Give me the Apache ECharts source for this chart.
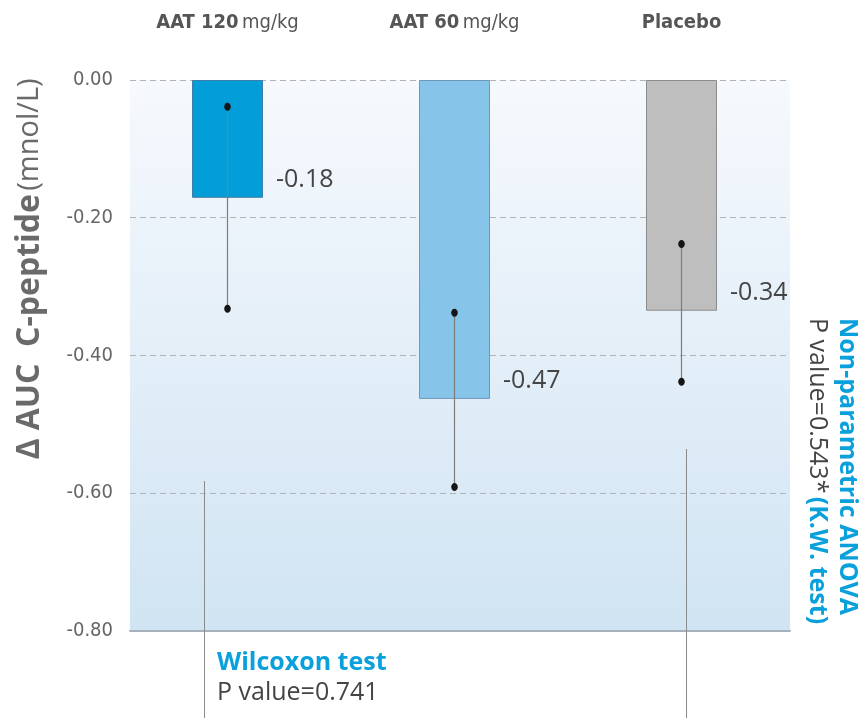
<!DOCTYPE html>
<html>
<head>
<meta charset="utf-8">
<script src="https://cdn.jsdelivr.net/npm/echarts@6/dist/echarts.min.js"></script>
<style>
html, body { margin: 0; padding: 0; background: #fff; }
#main { width: 866px; height: 718px; }
</style>
</head>
<body>
<div id="main"></div>
<script>
// groups and values
var groupNames = ['AAT 120', 'AAT 60', 'Placebo'];
var groupUnits = ['mg/kg', 'mg/kg', ''];
var barValues = [-0.171, -0.463, -0.335];
var meanLabels = ['-0.18', '-0.47', '-0.34'];
var errHigh = [-0.039, -0.338, -0.238];
var errLow = [-0.332, -0.591, -0.438];
var yMin = -0.8, yMax = 0, yStep = 0.2;

var barColors = ['#019ed9', '#87c4ea', '#bebebf'];
var barBorders = ['#3f7ea6', '#6f97b8', '#8c8c8c'];
var narrow = "'Liberation Sans Narrow', 'DejaVu Sans Condensed', 'Open Sans', sans-serif";
var mainFont = "'Open Sans', 'Noto Sans', sans-serif";
var blue = '#0aa0dc';

var chart = echarts.init(document.getElementById('main'));

var barData = barValues.map(function (v, i) {
    return {
        value: v,
        itemStyle: { color: barColors[i], borderColor: barBorders[i], borderWidth: 1 }
    };
});
var errData = errLow.map(function (lo, i) { return [i, lo, errHigh[i]]; });

var option = {
    animation: false,
    backgroundColor: '#fff',
    grid: [
        {   // panel with gridlines and y axis
            left: 130, right: 76, top: 80, bottom: 87,
            show: true, borderWidth: 0,
            backgroundColor: new echarts.graphic.LinearGradient(0, 0, 0, 1, [
                { offset: 0, color: '#f6f9fd' },
                { offset: 1, color: '#d0e4f3' }
            ])
        },
        {   // bars
            left: 114, right: 71, top: 80, bottom: 87
        }
    ],
    xAxis: [
        {
            gridIndex: 0, type: 'category', data: groupNames,
            axisLabel: { show: false }, axisTick: { show: false },
            axisLine: { show: true, onZero: false, lineStyle: { color: '#a7b1bb', width: 2 } },
            splitLine: { show: false }
        },
        {
            gridIndex: 1, type: 'category', data: groupNames, position: 'top',
            axisLine: { show: false }, axisTick: { show: false },
            axisLabel: {
                margin: 47,
                formatter: function (v, i) {
                    return groupUnits[i] ? '{b|' + v + '} {n|' + groupUnits[i] + '}' : '{b|' + v + '}';
                },
                rich: {
                    b: { fontFamily: narrow, fontWeight: 'bold', fontSize: 20, color: '#555' },
                    n: { fontFamily: narrow, fontSize: 20, color: '#555' }
                }
            }
        }
    ],
    yAxis: [
        {
            gridIndex: 0, type: 'value', min: yMin, max: yMax, interval: yStep,
            axisLine: { show: false }, axisTick: { show: false },
            axisLabel: {
                margin: 17, fontFamily: narrow, fontSize: 20, color: '#666',
                formatter: function (v) { return v.toFixed(2); }
            },
            splitLine: {
                show: true,
                lineStyle: { color: '#b3b3b3', type: [6, 4], width: 1 }
            }
        },
        {
            gridIndex: 1, type: 'value', min: yMin, max: yMax, interval: yStep,
            show: false, splitLine: { show: false }
        }
    ],
    series: [
        {
            type: 'bar', xAxisIndex: 1, yAxisIndex: 1,
            data: barData, barWidth: 71,
            label: {
                show: true,
                position: ['100%', '100%'],
                offset: [13, -18],
                align: 'left', verticalAlign: 'middle',
                fontFamily: mainFont, fontSize: 25, color: '#444',
                formatter: function (p) { return meanLabels[p.dataIndex]; }
            }
        },
        {
            type: 'custom', xAxisIndex: 1, yAxisIndex: 1,
            data: errData,
            renderItem: function (params, api) {
                var top = api.coord([api.value(0), api.value(2)]);
                var bot = api.coord([api.value(0), api.value(1)]);
                return {
                    type: 'group',
                    children: [
                        { type: 'line', shape: { x1: top[0], y1: top[1], x2: bot[0], y2: bot[1] },
                          style: { stroke: '#7d7d7d', lineWidth: 1.2 } },
                        { type: 'ellipse', shape: { cx: top[0], cy: top[1], rx: 3.3, ry: 4 },
                          style: { fill: '#151515' } },
                        { type: 'ellipse', shape: { cx: bot[0], cy: bot[1], rx: 3.3, ry: 4 },
                          style: { fill: '#151515' } }
                    ]
                };
            },
            z: 5
        }
    ],
    graphic: [
        {
            type: 'text', x: 30, y: 269, rotation: Math.PI / 2,
            style: {
                text: '{b|\u0394 AUC  C-peptide} {n|(mnol/L)}',
                align: 'center', verticalAlign: 'middle',
                rich: {
                    b: { fontFamily: mainFont, fontWeight: 'bold', fontSize: 32, fill: '#6a6a6a' },
                    n: { fontFamily: mainFont, fontSize: 29, fill: '#6a6a6a' }
                }
            }
        },
        {
            type: 'text', x: 832, y: 318, rotation: -Math.PI / 2,
            style: {
                text: '{t|Non-parametric ANOVA}\n{p|P value=0.543*} {t|(K.W. test)}',
                align: 'left', verticalAlign: 'middle',
                rich: {
                    t: { fontFamily: mainFont, fontWeight: 'bold', fontSize: 25, fill: blue, lineHeight: 30 },
                    p: { fontFamily: mainFont, fontSize: 25, fill: '#444', lineHeight: 30 }
                }
            }
        },
        {
            type: 'text', x: 217, y: 648,
            style: {
                text: '{t|Wilcoxon test}\n{p|P value=0.741}',
                align: 'left', verticalAlign: 'top',
                rich: {
                    t: { fontFamily: mainFont, fontWeight: 'bold', fontSize: 25, fill: blue, lineHeight: 30 },
                    p: { fontFamily: mainFont, fontSize: 25, fill: '#444', lineHeight: 30 }
                }
            }
        },
        {
            type: 'line', shape: { x1: 204.5, y1: 481, x2: 204.5, y2: 718 },
            style: { stroke: '#8a8a8a', lineWidth: 1 }, z: 10
        },
        {
            type: 'line', shape: { x1: 686.5, y1: 449, x2: 686.5, y2: 718 },
            style: { stroke: '#8a8a8a', lineWidth: 1 }, z: 10
        }
    ]
};

chart.setOption(option);
</script>
</body>
</html>
